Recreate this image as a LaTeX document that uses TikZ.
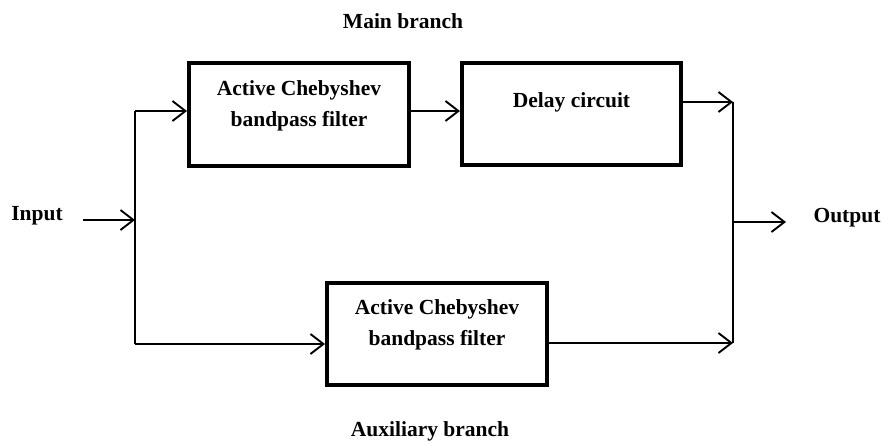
\documentclass[tikz,border=0pt]{standalone}
\usepackage{fontspec}
\setmainfont{Liberation Serif}
\usetikzlibrary{arrows.meta}
\begin{document}
\begin{tikzpicture}[x=1pt,y=-1pt,
  blk/.style={draw, line width=4pt, inner sep=0pt},
  txt/.style={font=\fontsize{21.5}{31}\selectfont\bfseries, align=center, inner sep=0pt},
  conn/.style={line width=1.9pt},
  arr/.style={conn, -{Straight Barb[length=13pt,width=20pt,line width=1.9pt]}}]
\useasboundingbox (0,0) rectangle (883,442);
% blocks
\node[blk, minimum width=220pt, minimum height=103pt] (A) at (299,114) {};
\node[blk, minimum width=219pt, minimum height=102pt] (D) at (571.5,114) {};
\node[blk, minimum width=220pt, minimum height=102pt] (B) at (437,334) {};
% block texts
\node[txt, anchor=north] (At) at ([yshift=-20pt]A.north) {Active Chebyshev\\bandpass filter};
\node[txt, anchor=north] (Dt) at ([yshift=-31pt]D.north) {Delay circuit};
\node[txt, anchor=north] (Bt) at ([yshift=-18pt]B.north) {Active Chebyshev\\bandpass filter};
% labels
\node[txt] (main) at (403,21) {Main branch};
\node[txt] (aux) at (430,431) {Auxiliary branch};
\node[txt] (inp) at (37,216) {Input};
\node[txt] (outp) at (847,218) {Output};
% junction coordinates
\coordinate (s) at (83,220);
\coordinate (j1) at (135,220);
\coordinate (ja) at (135,111);
\coordinate (jb) at (135,344);
\coordinate (k1) at (733,102);
\coordinate (k2) at (733,343);
\coordinate (k3) at (733,222);
\coordinate (e) at (786,222);
% connectors
\draw[arr] (s) -- (j1);
\draw[conn] (ja) -- (jb);
\draw[arr] (ja) -- (ja -| A.west);
\draw[arr] (jb) -- (jb -| B.west);
\draw[arr] (ja -| A.east) -- (ja -| D.west);
\draw[arr] (k1 -| D.east) -- (k1);
\draw[arr] (k2 -| B.east) -- (k2);
\draw[conn] (k1) -- (k2);
\draw[arr] (k3) -- (e);
\end{tikzpicture}
\end{document}
